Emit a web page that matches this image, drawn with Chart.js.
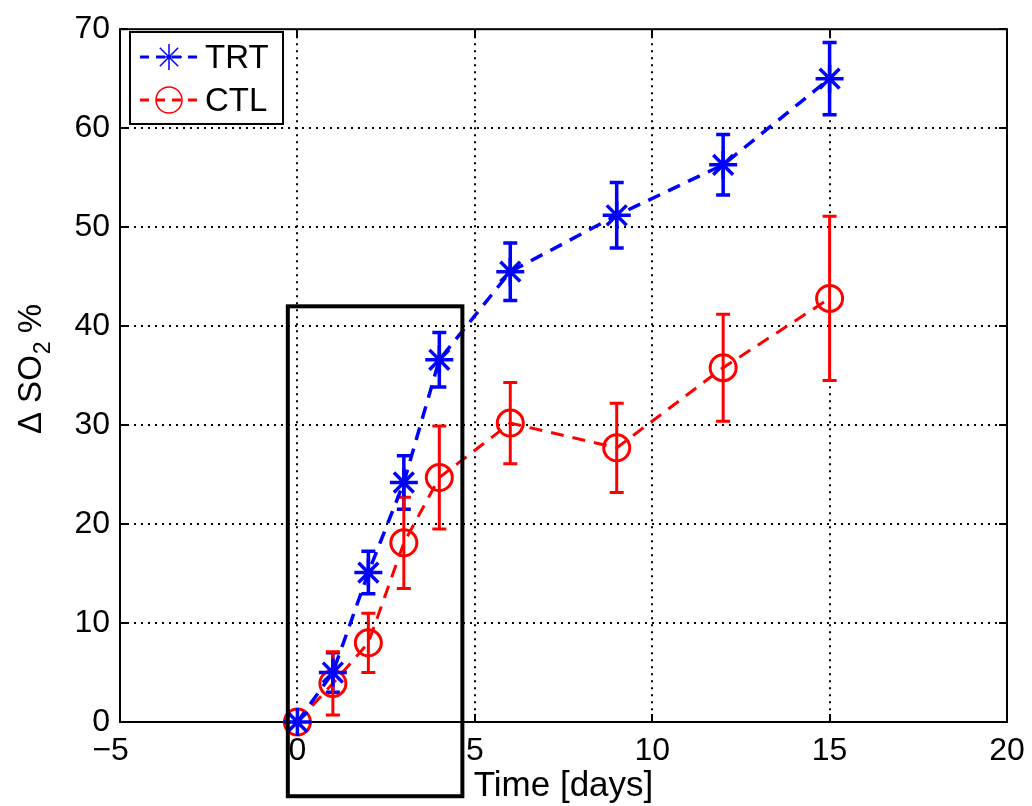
<!DOCTYPE html>
<html>
<head>
<meta charset="utf-8">
<title>Delta SO2 over time</title>
<script src="https://cdn.jsdelivr.net/npm/chart.js"></script>
<style>
  html, body { margin: 0; padding: 0; background: #fff; }
  #wrap { width: 1032px; height: 806px; }
</style>
</head>
<body>
<div id="wrap"><canvas id="so2Chart" width="1032" height="806"></canvas></div>
<script>
const FONT = "'Liberation Sans', Arial, Helvetica, sans-serif";

// measurements
const days = [0, 1, 2, 3, 4, 6, 9, 12, 15];
const trtMean = [0, 5.0, 15.1, 24.2, 36.6, 45.5, 51.2, 56.3, 65.0];
const trtErr = [0, 2.0, 2.15, 2.7, 2.75, 2.9, 3.3, 3.05, 3.65];
const ctlMean = [0, 3.9, 8.0, 18.1, 24.7, 30.2, 27.7, 35.8, 42.8];
const ctlErr = [0, 3.2, 3.0, 4.6, 5.2, 4.1, 4.5, 5.4, 8.3];

// axis ticks
const xTicks = [-5, 0, 5, 10, 15, 20];
const yTicks = [0, 10, 20, 30, 40, 50, 60, 70];

// highlighted early window [xMin, xMax, yMin, yMax] in data units
const earlyBox = [-0.27, 4.65, -7.5, 42];

const BLUE = 'rgb(0,0,255)';
const RED = 'rgb(255,0,0)';

function toPoints(xs, ys) {
  return xs.map((x, i) => ({ x: x, y: ys[i] }));
}

// vertical error bars with caps, drawn under the markers
const errorBars = {
  id: 'errorBars',
  beforeDatasetsDraw(chart) {
    const ctx = chart.ctx;
    const xs = chart.scales.x, ys = chart.scales.y;
    chart.data.datasets.forEach(ds => {
      const err = ds.errors;
      if (!err) return;
      ctx.save();
      ctx.strokeStyle = ds.borderColor;
      ctx.lineWidth = ds.errorWidth;
      ctx.setLineDash([]);
      ds.data.forEach((p, i) => {
        if (!err[i]) return;
        const px = xs.getPixelForValue(p.x);
        const top = ys.getPixelForValue(p.y + err[i]);
        const bot = ys.getPixelForValue(p.y - err[i]);
        const cap = 7;
        ctx.beginPath();
        ctx.moveTo(px, top); ctx.lineTo(px, bot);
        ctx.moveTo(px - cap, top); ctx.lineTo(px + cap, top);
        ctx.moveTo(px - cap, bot); ctx.lineTo(px + cap, bot);
        ctx.stroke();
      });
      ctx.restore();
    });
  }
};

// solid axes box with inward ticks on all four sides, plus x tick labels
const axesBox = {
  id: 'axesBox',
  beforeDatasetsDraw(chart) {
    const { ctx, chartArea: a } = chart;
    const xs = chart.scales.x, ys = chart.scales.y;
    const t = 8;
    ctx.save();
    ctx.strokeStyle = '#000';
    ctx.lineWidth = 2;
    ctx.setLineDash([]);
    ctx.strokeRect(a.left, a.top, a.right - a.left, a.bottom - a.top);
    ctx.beginPath();
    xTicks.forEach(v => {
      const px = Math.round(xs.getPixelForValue(v));
      ctx.moveTo(px, a.bottom); ctx.lineTo(px, a.bottom - t);
      ctx.moveTo(px, a.top); ctx.lineTo(px, a.top + t);
    });
    yTicks.forEach(v => {
      const py = Math.round(ys.getPixelForValue(v));
      ctx.moveTo(a.left, py); ctx.lineTo(a.left + t, py);
      ctx.moveTo(a.right, py); ctx.lineTo(a.right - t, py);
    });
    ctx.stroke();

    // digits centred under the tick, minus sign hanging to the left
    ctx.fillStyle = '#000';
    ctx.font = '32px ' + FONT;
    ctx.textBaseline = 'alphabetic';
    const ty = a.bottom + 38;
    xTicks.forEach(v => {
      const px = xs.getPixelForValue(v);
      const digits = String(Math.abs(v));
      ctx.textAlign = 'center';
      ctx.fillText(digits, px, ty);
      if (v < 0) {
        const half = ctx.measureText(digits).width / 2;
        ctx.textAlign = 'right';
        ctx.fillText('\u2212', px - half, ty);
      }
    });
    ctx.restore();
  }
};

// axis titles, legend and the outlined window
const decorations = {
  id: 'decorations',
  afterDraw(chart) {
    const { ctx, chartArea: a } = chart;
    const xs = chart.scales.x, ys = chart.scales.y;
    ctx.save();
    ctx.fillStyle = '#000';

    // x title
    ctx.font = '35px ' + FONT;
    ctx.textAlign = 'center';
    ctx.textBaseline = 'alphabetic';
    ctx.fillText('Time [days]', (a.left + a.right) / 2, 796);

    // y title with subscript
    ctx.save();
    ctx.translate(41, 369);
    ctx.rotate(-Math.PI / 2);
    ctx.textAlign = 'left';
    const big = '33px ' + FONT, small = '23px ' + FONT;
    ctx.font = big;
    const w1 = ctx.measureText('\u0394 SO').width;
    ctx.font = small;
    const w2 = ctx.measureText('2').width;
    ctx.font = big;
    const w3 = ctx.measureText(' %').width;
    let x0 = -(w1 + w2 + w3) / 2;
    ctx.fillText('\u0394 SO', x0, 0);
    ctx.font = small;
    ctx.fillText('2', x0 + w1 + 1, 9);
    ctx.font = big;
    ctx.fillText(' %', x0 + w1 + w2, 0);
    ctx.restore();

    // legend
    const lx = 130, ly = 32, lw = 153, lh = 92;
    ctx.fillStyle = '#fff';
    ctx.fillRect(lx, ly, lw, lh);
    ctx.strokeStyle = '#000';
    ctx.lineWidth = 2;
    ctx.strokeRect(lx, ly, lw, lh);
    const rows = [
      { ds: chart.data.datasets[0], y: ly + 25 },
      { ds: chart.data.datasets[1], y: ly + 68 }
    ];
    rows.forEach(r => {
      ctx.strokeStyle = r.ds.borderColor;
      ctx.lineWidth = 3;
      ctx.setLineDash([9, 7]);
      ctx.beginPath();
      ctx.moveTo(lx + 10, r.y); ctx.lineTo(lx + 70, r.y);
      ctx.stroke();
      ctx.setLineDash([]);
      ctx.lineWidth = 1.5;
      const cx = lx + 39, rad = 13;
      ctx.beginPath();
      if (r.ds.pointStyle === 'star') {
        for (let k = 0; k < 4; k++) {
          const ang = k * Math.PI / 4;
          ctx.moveTo(cx - rad * Math.cos(ang), r.y - rad * Math.sin(ang));
          ctx.lineTo(cx + rad * Math.cos(ang), r.y + rad * Math.sin(ang));
        }
      } else {
        ctx.arc(cx, r.y, rad, 0, Math.PI * 2);
      }
      ctx.stroke();
      ctx.fillStyle = '#000';
      ctx.font = '33px ' + FONT;
      ctx.textAlign = 'left';
      ctx.textBaseline = 'middle';
      ctx.fillText(r.ds.label, lx + 75, r.y + 2);
    });

    // outlined early window
    const bx0 = xs.getPixelForValue(earlyBox[0]);
    const bx1 = xs.getPixelForValue(earlyBox[1]);
    const by0 = ys.getPixelForValue(earlyBox[3]);
    const by1 = ys.getPixelForValue(earlyBox[2]);
    ctx.strokeStyle = '#000';
    ctx.lineWidth = 4;
    ctx.strokeRect(bx0, by0, bx1 - bx0, by1 - by0);

    ctx.restore();
  }
};

const ctx = document.getElementById('so2Chart').getContext('2d');

const so2Chart = new Chart(ctx, {
  type: 'line',
  data: {
    datasets: [{
      label: 'TRT',
      data: toPoints(days, trtMean),
      errors: trtErr,
      errorWidth: 3.5,
      borderColor: BLUE,
      backgroundColor: 'rgba(0,0,0,0)',
      borderWidth: 3.5,
      borderDash: [13, 9],
      pointStyle: 'star',
      pointRadius: 14,
      pointBorderWidth: 3.5,
      pointHoverRadius: 14,
      tension: 0,
      clip: false
    }, {
      label: 'CTL',
      data: toPoints(days, ctlMean),
      errors: ctlErr,
      errorWidth: 3,
      borderColor: RED,
      backgroundColor: 'rgba(0,0,0,0)',
      borderWidth: 3,
      borderDash: [13, 9],
      pointStyle: 'circle',
      pointRadius: 13,
      pointBorderWidth: 3,
      pointHoverRadius: 13,
      tension: 0,
      clip: false
    }]
  },
  options: {
    responsive: false,
    animation: false,
    layout: { padding: { top: 22, right: 25, left: 0, bottom: 0 } },
    plugins: {
      legend: { display: false },
      tooltip: { enabled: false }
    },
    scales: {
      x: {
        type: 'linear',
        min: -5,
        max: 20,
        afterBuildTicks: s => { s.ticks = xTicks.map(v => ({ value: v })); },
        afterFit: s => { s.height = 84; },
        border: { display: false, dash: [2, 5] },
        grid: {
          color: c => (c.tick && (c.tick.value === -5 || c.tick.value === 20)) ? 'rgba(0,0,0,0)' : '#000',
          lineWidth: 2,
          drawTicks: false
        },
        ticks: { display: false }
      },
      y: {
        min: 0,
        max: 70,
        afterBuildTicks: s => { s.ticks = yTicks.map(v => ({ value: v })); },
        afterFit: s => { s.width = 120; },
        border: { display: false, dash: [2, 5] },
        grid: {
          color: c => (c.tick && (c.tick.value === 0 || c.tick.value === 70)) ? 'rgba(0,0,0,0)' : '#000',
          lineWidth: 2,
          drawTicks: false
        },
        ticks: {
          padding: 10,
          color: '#000',
          font: { family: FONT, size: 32 }
        }
      }
    }
  },
  plugins: [axesBox, errorBars, decorations]
});
</script>
</body>
</html>
